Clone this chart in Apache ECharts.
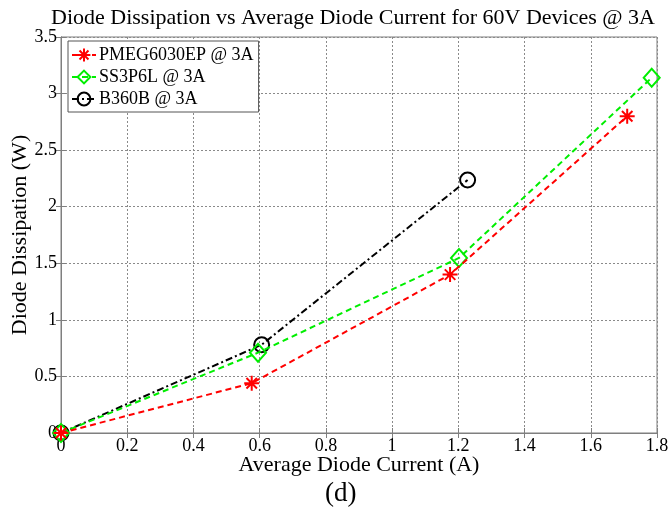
<!DOCTYPE html>
<html>
<head>
<meta charset="utf-8">
<script src="https://cdn.jsdelivr.net/npm/echarts@6/dist/echarts.min.js"></script>
<style>html,body{margin:0;padding:0;background:#fff}#c{width:668px;height:519px}</style>
</head>
<body>
<div id="c"></div>
<script>
var seriesNames = ['PMEG6030EP @ 3A', 'SS3P6L @ 3A', 'B360B @ 3A'];
var pmegX = [0, 0.576, 1.175, 1.71];
var pmegY = [0, 0.44, 1.40, 2.80];
var ss3X = [0, 0.595, 1.202, 1.784];
var ss3Y = [0, 0.71, 1.547, 3.14];
var b360X = [0, 0.606, 1.228];
var b360Y = [0, 0.78, 2.236];
var xTicks = [0, 0.2, 0.4, 0.6, 0.8, 1, 1.2, 1.4, 1.6, 1.8];
var yTicks = [0, 0.5, 1, 1.5, 2, 2.5, 3, 3.5];

function pairs(xs, ys) { return xs.map(function (x, i) { return [x, ys[i]]; }); }

var FONT = '"Liberation Serif", "Times New Roman", serif';
var starPath = 'path://M0,-10L0,10M-10,0L10,0M-7,-7L7,7M-7,7L7,-7';

var chart = echarts.init(document.getElementById('c'));
var axisCommon = {
  axisLine: { show: true, lineStyle: { color: '#7f7f7f', width: 1 } },
  axisTick: { show: true, inside: true, length: 5, lineStyle: { color: '#7f7f7f' } }
};
chart.setOption({
  backgroundColor: '#fff',
  animation: false,
  title: {
    text: 'Diode Dissipation vs Average Diode Current for 60V Devices @ 3A',
    left: 348, top: 2, textAlign: 'center',
    textStyle: { fontFamily: FONT, fontWeight: 'normal', fontSize: 22, color: '#000' }
  },
  graphic: [{
    type: 'text', left: 325, top: 480,
    style: { text: '(d)', font: '27px ' + FONT, fill: '#000' }
  }],
  grid: { left: 61, right: 11, top: 37, bottom: 86, outerBoundsMode: 'none', containLabel: false, show: true, borderColor: '#7f7f7f', borderWidth: 1, backgroundColor: '#fff' },
  legend: {
    left: 68, top: 41, orient: 'vertical',
    backgroundColor: '#fff', borderColor: '#555', borderWidth: 1,
    padding: [5, 5, 4, 3], itemGap: 4, itemWidth: 24, itemHeight: 16,
    textStyle: { fontFamily: FONT, fontSize: 18, color: '#000', padding: [0, 0, 0, -2] },
    data: seriesNames
  },
  xAxis: [Object.assign({
    type: 'value', min: 0, max: 1.8, interval: 0.2,
    name: 'Average Diode Current (A)', nameLocation: 'middle', nameGap: 21, nameMoveOverlap: false,
    nameTextStyle: { fontFamily: FONT, fontSize: 22, color: '#000' },
    axisLabel: {
      fontFamily: FONT, fontSize: 18, color: '#000', margin: 4,
      formatter: function (v) { var t = xTicks.find(function (x) { return Math.abs(x - v) < 1e-6; }); return t === undefined ? '' : String(t); }
    },
    splitLine: { show: true, lineStyle: { type: [2, 2], color: '#8a8a8a', width: 1 } }
  }, axisCommon), Object.assign({
    type: 'value', min: 0, max: 1.8, interval: 0.2, position: 'top',
    axisLabel: { show: false }, splitLine: { show: false }
  }, axisCommon)],
  yAxis: [Object.assign({
    type: 'value', min: 0, max: 3.5, interval: 0.5,
    name: 'Diode Dissipation (W)', nameLocation: 'middle', nameGap: 30, nameMoveOverlap: false,
    nameTextStyle: { fontFamily: FONT, fontSize: 22, color: '#000' },
    axisLabel: {
      fontFamily: FONT, fontSize: 18, color: '#000', margin: 4,
      formatter: function (v) { var t = yTicks.find(function (y) { return Math.abs(y - v) < 1e-6; }); return t === undefined ? '' : String(t); }
    },
    splitLine: { show: true, lineStyle: { type: [2, 2], color: '#8a8a8a', width: 1 } }
  }, axisCommon), Object.assign({
    type: 'value', min: 0, max: 3.5, interval: 0.5, position: 'right',
    axisLabel: { show: false }, splitLine: { show: false }
  }, axisCommon)],
  series: [
    {
      name: seriesNames[0], type: 'line', data: pairs(pmegX, pmegY),
      symbol: starPath, symbolSize: 15, z: 4,
      lineStyle: { color: '#ff0000', width: 2, type: [6, 4] },
      itemStyle: { color: '#ff0000', borderColor: '#ff0000', borderWidth: 2 }
    },
    {
      name: seriesNames[1], type: 'line', data: pairs(ss3X, ss3Y),
      symbol: 'diamond', symbolSize: [16, 18], z: 3,
      lineStyle: { color: '#00ee00', width: 2, type: [6, 4] },
      itemStyle: { color: 'rgba(255,255,255,0)', borderColor: '#00ee00', borderWidth: 2 }
    },
    {
      name: seriesNames[2], type: 'line', data: pairs(b360X, b360Y),
      symbol: 'circle', symbolSize: 15, z: 2,
      lineStyle: { color: '#000000', width: 2, type: [7, 3, 2, 3] },
      itemStyle: { color: 'rgba(255,255,255,0)', borderColor: '#000000', borderWidth: 2 }
    }
  ]
});
</script>
</body>
</html>
